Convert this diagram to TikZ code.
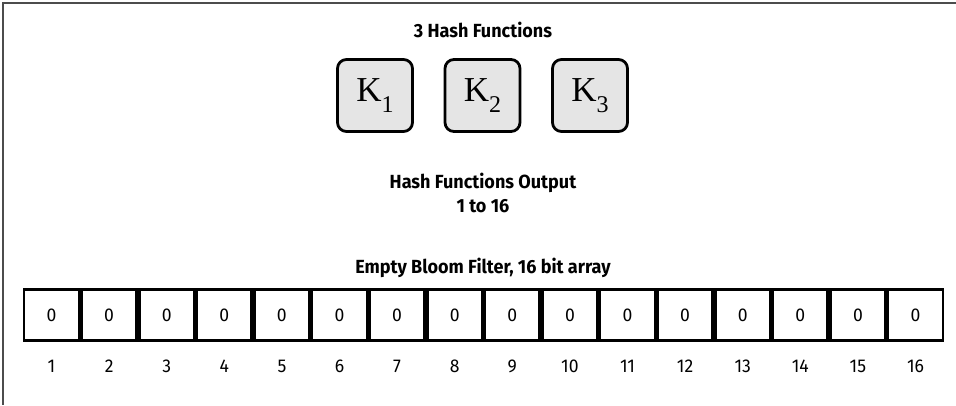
\documentclass[tikz,border=0pt]{standalone}
\usepackage{fontspec}
\setmainfont{Fira Sans}[FakeStretch=0.95]
\newfontfamily\kfont{Liberation Serif}
\newcommand{\ksub}[1]{\raisebox{-11pt}{\fontsize{24}{26}\selectfont #1}}
\begin{document}
\begin{tikzpicture}[x=1pt,y=-1pt,
  frameline/.style={draw=black!70,line width=1.4pt},
  title/.style={font=\fontsize{19}{22}\selectfont\bfseries,align=center,inner sep=0pt},
  hashbox/.style={draw=black,line width=2.8pt,fill=black!10,rounded corners=9pt,minimum width=75pt,minimum height=72pt,inner sep=0pt,font=\kfont\fontsize{35}{38}\selectfont},
  bitcell/.style={draw=black,line width=2.7pt,fill=white,minimum width=54.9pt,minimum height=51.3pt,inner sep=0pt,font=\fontsize{18.5}{20}\selectfont},
  idx/.style={inner sep=0pt,font=\fontsize{18.5}{20}\selectfont}]
\useasboundingbox (0,0) rectangle (956,405);
\coordinate (ftop) at (3,3);
\coordinate (fright) at (956,3);
\coordinate (fbot) at (3,405);
\draw[frameline] (fright) -- (ftop) -- (fbot);
\node[title] (t1) at (483,30) {3 Hash Functions};
\node[hashbox] (k1) at (375,95.5) {K\ksub{1}};
\node[hashbox] (k2) at (482.5,95.5) {K\ksub{2}};
\node[hashbox] (k3) at (590,95.5) {K\ksub{3}};
\node[title] (t2) at (483,193) {Hash Functions Output\\[2pt]1 to 16};
\node[title] (t3) at (483,268) {Empty Bloom Filter, 16 bit array};
\foreach \i in {1,...,16}{
  \pgfmathsetmacro{\cx}{22.7+57.6*(\i-0.5)}
  \node[bitcell] (c\i) at (\cx,315) {0};
  \node[idx] (n\i) at (\cx,366) {\i};
}
\end{tikzpicture}
\end{document}
